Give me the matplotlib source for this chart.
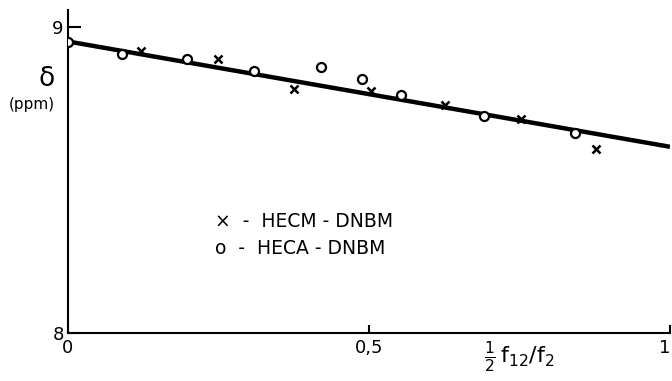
import matplotlib.pyplot as plt

plt.rcParams['font.family'] = 'DejaVu Sans'
plt.rcParams['mathtext.default'] = 'regular'

# HECA - DNBM (open circles)
heca_x = [0.0, 0.09, 0.198, 0.309, 0.42, 0.488, 0.553, 0.691, 0.842]
heca_y = [8.95, 8.912, 8.895, 8.856, 8.87, 8.83, 8.778, 8.709, 8.654]

# HECM - DNBM (crosses)
hecm_x = [0.121, 0.25, 0.375, 0.503, 0.626, 0.752, 0.877]
hecm_y = [8.92, 8.895, 8.797, 8.79, 8.745, 8.70, 8.60]

# fitted line
fit_x = [0.0, 1.0]
fit_y = [8.952, 8.608]

fig = plt.figure(figsize=(6.72, 3.81), dpi=100)
ax = fig.add_axes([0.101, 0.126, 0.896, 0.848])

ax.plot(fit_x, fit_y, color='black', lw=3.2, solid_capstyle='butt', zorder=2)
ax.plot(heca_x, heca_y, 'o', ms=6.5, mfc='white', mec='black', mew=1.6, zorder=3)
ax.plot(hecm_x, hecm_y, 'x', ms=6, mec='black', mew=1.8, zorder=3)

ax.set_xlim(0, 1)
ax.set_ylim(8, 9.055)
ax.spines['top'].set_visible(False)
ax.spines['right'].set_visible(False)
ax.spines['left'].set_linewidth(1.5)
ax.spines['bottom'].set_linewidth(1.5)

ax.set_xticks([0, 0.5, 1])
ax.set_xticklabels(['0', '0,5', '1'], fontsize=13)
ax.get_xticklabels()[-1].set_horizontalalignment('right')
ax.set_yticks([8, 9])
ax.set_yticklabels(['8', '9'], fontsize=13)
ax.tick_params(axis='x', direction='in', length=6, width=1.5, pad=4)
ax.tick_params(axis='y', direction='in', length=9, width=1.5, pad=3)

ax.text(-0.035, 8.83, r'$\delta$', fontsize=19, ha='center', va='center', clip_on=False)
ax.text(-0.06, 8.745, '(ppm)', fontsize=11, ha='center', va='center', clip_on=False)

ax.text(0.245, 8.365, '×  -  HECM - DNBM', fontsize=13.5, ha='left', va='center')
ax.text(0.245, 8.275, 'o  -  HECA - DNBM', fontsize=13.5, ha='left', va='center')

ax.text(0.75, -0.02, r'$\frac{1}{2}\,f_{12}/f_2$', fontsize=16, ha='center', va='top',
        transform=ax.get_xaxis_transform(), clip_on=False)

fig.savefig('out.png', dpi=100)
